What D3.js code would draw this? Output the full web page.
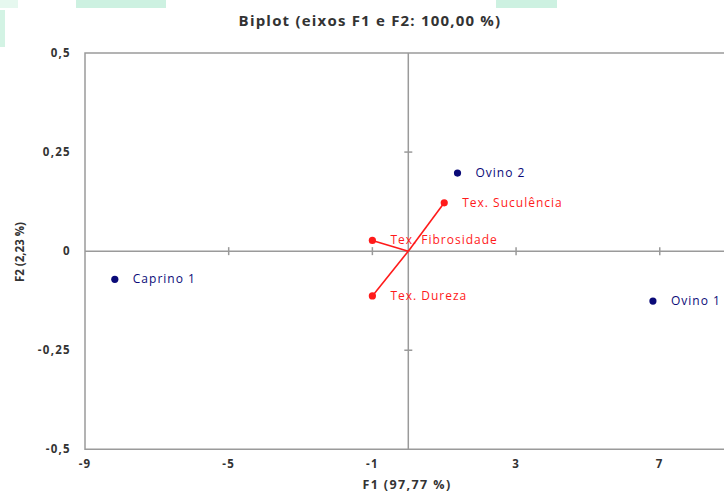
<!DOCTYPE html>
<html>
<head>
<meta charset="utf-8">
<script src="https://cdn.jsdelivr.net/npm/d3@7"></script>
<style>
  html, body { margin: 0; padding: 0; background: #fff; }
  svg { display: block; font-family: "Open Sans", sans-serif; }
</style>
</head>
<body>
<svg id="chart" width="724" height="492"></svg>
<script>
// Observations (factor scores on F1 / F2)
const obsNames = ["Caprino 1", "Ovino 1", "Ovino 2"];
const obsF1 = [-8.17, 6.81, 1.37];
const obsF2 = [-0.071, -0.126, 0.197];

// Variables (loading vectors on F1 / F2)
const varNames = ["Tex. Dureza", "Tex. Fibrosidade", "Tex. Suculência"];
const varF1 = [-1.0, -1.0, 1.0];
const varF2 = [-0.113, 0.027, 0.122];

// Axis ticks
const xTicks = [-9, -5, -1, 3, 7];
const yTicks = [-0.5, -0.25, 0, 0.25, 0.5];
const fmt = v => String(v).replace(".", ",");

const svg = d3.select("#chart");
const x = d3.scaleLinear().domain([-9, 9]).range([85, 731.6]);
const y = d3.scaleLinear().domain([-0.5, 0.5]).range([449.3, 53]);

// background strips along the top edge
const strips = [
  [0, 0, 18, 8, "#e6f8ef"], [0, 10, 5, 37, "#d3f3e4"],
  [76, 0, 90, 8, "#cdf1e1"], [496, 0, 61, 8, "#cdf1e1"]
];
svg.selectAll("rect.strip").data(strips).join("rect")
  .attr("class", "strip")
  .attr("x", d => d[0]).attr("y", d => d[1])
  .attr("width", d => d[2]).attr("height", d => d[3])
  .attr("fill", d => d[4]);

// title
svg.append("text")
  .attr("x", 370).attr("y", 26)
  .attr("text-anchor", "middle")
  .attr("font-size", 15).attr("font-weight", "bold")
  .attr("letter-spacing", 1.2)
  .attr("fill", "#333")
  .text("Biplot (eixos F1 e F2: 100,00 %)");

// plot frame (left, top, bottom)
const axisColor = "#9a9a9a";
const frame = svg.append("g").attr("stroke", axisColor).attr("stroke-width", 1.5).attr("fill", "none");
frame.append("path")
  .attr("d", `M${x(9)},${y(0.5)}H${x(-9)}V${y(-0.5)}H${x(9)}`);

// zero lines through the origin
frame.append("line").attr("x1", x(0)).attr("x2", x(0)).attr("y1", y(0.5)).attr("y2", y(-0.5));
frame.append("line").attr("x1", x(-9)).attr("x2", x(9)).attr("y1", y(0)).attr("y2", y(0));

// tick marks crossing the zero lines
frame.selectAll("line.xt").data(xTicks.slice(1)).join("line")
  .attr("class", "xt")
  .attr("x1", d => x(d)).attr("x2", d => x(d))
  .attr("y1", y(0) - 4).attr("y2", y(0) + 4);
frame.selectAll("line.yt").data([-0.25, 0.25]).join("line")
  .attr("class", "yt")
  .attr("x1", x(0) - 4).attr("x2", x(0) + 4)
  .attr("y1", d => y(d)).attr("y2", d => y(d));

// tick labels
svg.selectAll("text.xl").data(xTicks).join("text")
  .attr("class", "xl")
  .attr("x", d => x(d)).attr("y", 468)
  .attr("text-anchor", "middle")
  .attr("font-size", 11.5).attr("font-weight", "bold").attr("fill", "#333")
  .attr("letter-spacing", 1.2)
  .text(d => fmt(d));
svg.selectAll("text.yl").data(yTicks).join("text")
  .attr("class", "yl")
  .attr("x", 71).attr("y", d => y(d) + 4)
  .attr("text-anchor", "end")
  .attr("font-size", 11.5).attr("font-weight", "bold").attr("fill", "#333")
  .attr("letter-spacing", 1.3)
  .text(d => fmt(d));

// axis titles
svg.append("text")
  .attr("x", 407).attr("y", 489)
  .attr("text-anchor", "middle")
  .attr("font-size", 12.5).attr("font-weight", "bold").attr("fill", "#333")
  .attr("letter-spacing", 1.4)
  .text("F1 (97,77 %)");
svg.append("text")
  .attr("transform", "translate(24,252) rotate(-90)")
  .attr("text-anchor", "middle")
  .attr("font-size", 11.5).attr("font-weight", "bold").attr("fill", "#333")
  .text("F2 (2,23 %)");

// variable vectors
const vars = varNames.map((n, i) => ({ name: n, f1: varF1[i], f2: varF2[i] }));
const red = "#ff1a1a";
const vg = svg.append("g");
vg.selectAll("line").data(vars).join("line")
  .attr("x1", x(0)).attr("y1", y(0))
  .attr("x2", d => x(d.f1)).attr("y2", d => y(d.f2))
  .attr("stroke", red).attr("stroke-width", 1.6);
vg.selectAll("circle").data(vars).join("circle")
  .attr("cx", d => x(d.f1)).attr("cy", d => y(d.f2)).attr("r", 3.6)
  .attr("fill", red);
vg.selectAll("text").data(vars).join("text")
  .attr("x", d => x(d.f1) + 18).attr("y", d => y(d.f2) + 4)
  .attr("font-size", 12).attr("fill", red)
  .attr("letter-spacing", 1)
  .text(d => d.name);

// observations
const obs = obsNames.map((n, i) => ({ name: n, f1: obsF1[i], f2: obsF2[i] }));
const navy = "#0a0a78";
const og = svg.append("g");
og.selectAll("circle").data(obs).join("circle")
  .attr("cx", d => x(d.f1)).attr("cy", d => y(d.f2)).attr("r", 3.6)
  .attr("fill", navy);
og.selectAll("text").data(obs).join("text")
  .attr("x", d => x(d.f1) + 18).attr("y", d => y(d.f2) + 4)
  .attr("font-size", 12).attr("fill", navy)
  .attr("letter-spacing", 1)
  .text(d => d.name);
</script>
</body>
</html>
